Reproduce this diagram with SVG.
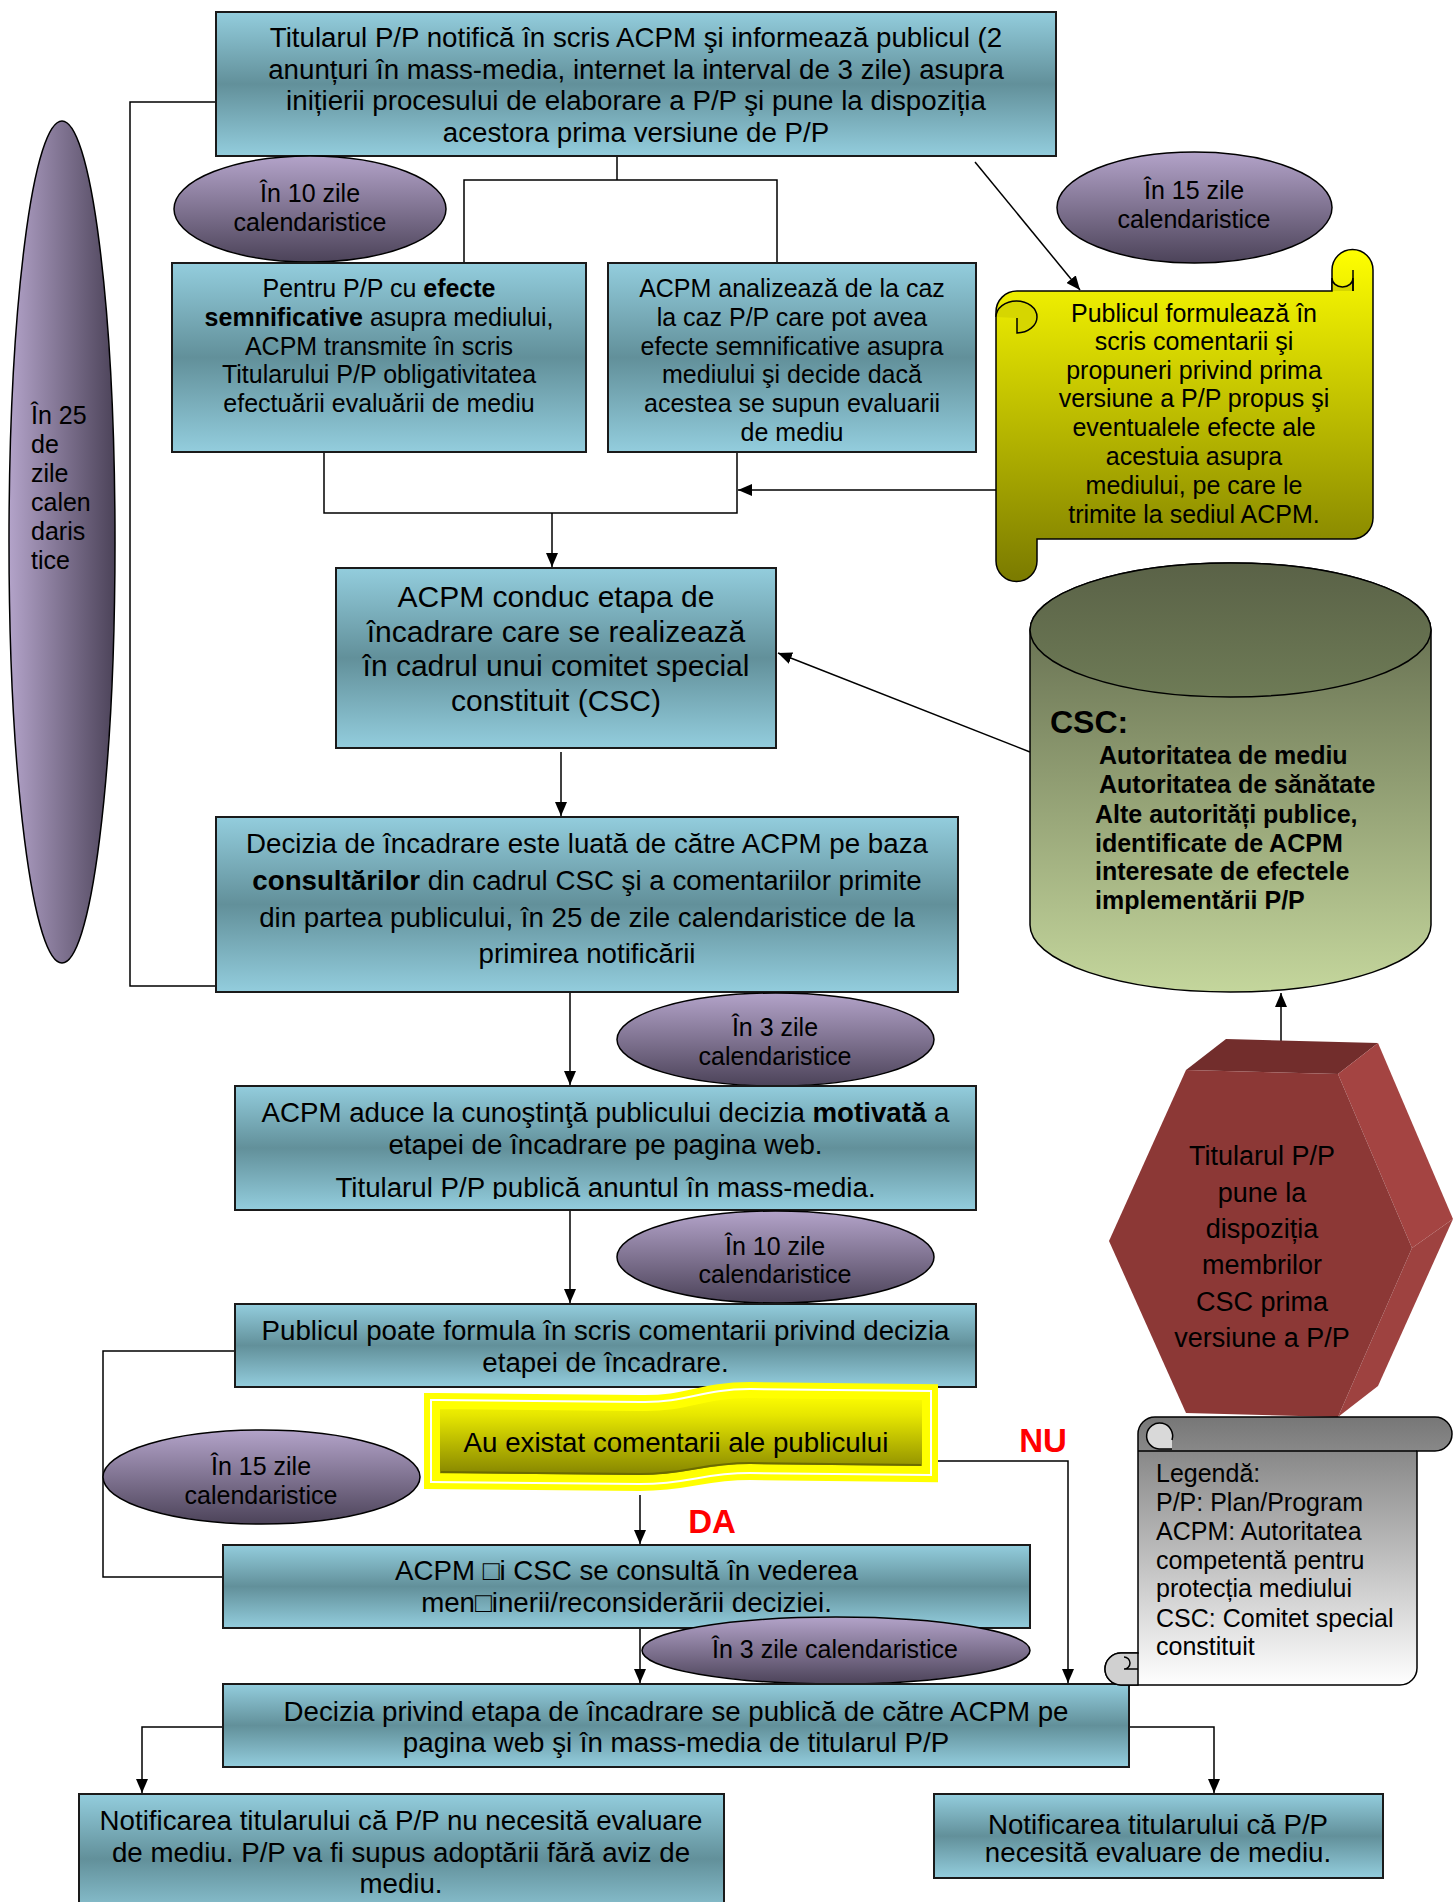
<svg xmlns="http://www.w3.org/2000/svg" width="1453" height="1902" viewBox="0 0 1453 1902">
<defs>
<linearGradient id="blue" x1="0" y1="0" x2="0" y2="1"><stop offset="0" stop-color="#93cddd"/><stop offset="0.5" stop-color="#62909a"/><stop offset="1" stop-color="#93cddd"/></linearGradient>
<linearGradient id="purp" x1="0" y1="0" x2="0" y2="1"><stop offset="0" stop-color="#b3a3c9"/><stop offset="1" stop-color="#4c4359"/></linearGradient>
<linearGradient id="purpH" x1="0" y1="0" x2="1" y2="0"><stop offset="0" stop-color="#b3a3c9"/><stop offset="1" stop-color="#4c4359"/></linearGradient>
<linearGradient id="yel" x1="0" y1="0" x2="0" y2="1"><stop offset="0" stop-color="#ffff00"/><stop offset="1" stop-color="#7a7a00"/></linearGradient>
<linearGradient id="yel2" x1="0" y1="0" x2="0" y2="1"><stop offset="0" stop-color="#ffff00"/><stop offset="0.25" stop-color="#e6e600"/><stop offset="1" stop-color="#7f7f00"/></linearGradient>
<linearGradient id="cyl" x1="0" y1="0" x2="0" y2="1"><stop offset="0" stop-color="#5a6247"/><stop offset="1" stop-color="#c4d69c"/></linearGradient>
<linearGradient id="cyltop" x1="0" y1="0" x2="0" y2="1"><stop offset="0" stop-color="#5a6247"/><stop offset="1" stop-color="#6e7b56"/></linearGradient>
<linearGradient id="gray" x1="0" y1="0" x2="0" y2="1"><stop offset="0" stop-color="#777777"/><stop offset="1" stop-color="#ffffff"/></linearGradient>
<marker id="ah" markerUnits="userSpaceOnUse" markerWidth="14" markerHeight="12" refX="14" refY="6" orient="auto"><path d="M0,0 L14,6 L0,12 z" fill="#000"/></marker>
<clipPath id="clipAduce"><rect x="235" y="1086" width="741" height="113"/></clipPath>
</defs>
<style>
text{font-family:"Liberation Sans",Arial,sans-serif;fill:#000}
.box{fill:url(#blue);stroke:#1a1a1a;stroke-width:2}
.ell{fill:url(#purp);stroke:#000;stroke-width:1.5}
.t25{font-size:25px}
.t27{font-size:27.7px}
.t27h{font-size:27px}
.c{text-anchor:middle}
.b{font-weight:bold}
.ln{fill:none;stroke:#000;stroke-width:1.5}
.ar{fill:none;stroke:#000;stroke-width:1.5;marker-end:url(#ah)}
</style>
<rect width="1453" height="1902" fill="#fff"/>

<g id="connectors">
<path class="ln" d="M216,102 H130 V986 H216"/>
<path class="ln" d="M617,156 V180 M464,263 V180 H777 V263"/>
<path class="ln" d="M324,452 V513 H737 V452"/>
<path class="ar" d="M552,513 V567"/>
<path class="ar" d="M996,490 H738"/>
<path class="ar" d="M975,162 L1080,290"/>
<path class="ar" d="M1030,752 L778,653"/>
<path class="ar" d="M561,752 V816"/>
<path class="ar" d="M570,992 V1085"/>
<path class="ar" d="M570,1210 V1303"/>
<path class="ln" d="M235,1351 H103 V1577 H222"/>
<path class="ar" d="M640,1495 V1544"/>
<path class="ar" d="M640,1617 V1683"/>
<path class="ar" d="M929,1461 H1068 V1683"/>
<path class="ar" d="M223,1727 H142 V1793"/>
<path class="ar" d="M1129,1727 H1214 V1793"/>
<path class="ar" d="M1281,1071 V993"/>
</g>

<g id="n-ellipse25">
<ellipse cx="62" cy="542" rx="53" ry="421" fill="url(#purpH)" stroke="#000" stroke-width="1.5"/>
<text class="t25" x="31"><tspan x="31" y="424">În 25</tspan><tspan x="31" y="453">de</tspan><tspan x="31" y="482">zile</tspan><tspan x="31" y="511">calen</tspan><tspan x="31" y="540">daris</tspan><tspan x="31" y="569">tice</tspan></text>
</g>

<g id="n-top">
<rect class="box" x="216" y="12" width="840" height="144"/>
<text class="t27 c" x="636" y="47">Titularul P/P notifică în scris ACPM şi informează publicul (2</text>
<text class="t27 c" x="636" y="78.5">anunțuri în mass-media, internet la interval de 3 zile) asupra</text>
<text class="t27 c" x="636" y="110">inițierii procesului de elaborare a P/P şi pune la dispoziția</text>
<text class="t27 c" x="636" y="141.5">acestora prima versiune de P/P</text>
</g>

<g id="n-e10a">
<ellipse class="ell" cx="310" cy="209" rx="136" ry="53"/>
<text class="t25 c" x="310" y="202">În 10 zile</text>
<text class="t25 c" x="310" y="231">calendaristice</text>
</g>

<g id="n-e15a">
<ellipse class="ell" cx="1194.5" cy="207.5" rx="137.5" ry="55.5"/>
<text class="t25 c" x="1194" y="199">În 15 zile</text>
<text class="t25 c" x="1194" y="228">calendaristice</text>
</g>

<g id="n-pentru">
<rect class="box" x="172" y="263" width="414" height="189"/>
<text class="t25 c" x="379" y="297">Pentru P/P cu <tspan class="b">efecte</tspan></text>
<text class="t25 c" x="379" y="326"><tspan class="b">semnificative</tspan> asupra mediului,</text>
<text class="t25 c" x="379" y="355">ACPM transmite în scris</text>
<text class="t25 c" x="379" y="383">Titularului P/P obligativitatea</text>
<text class="t25 c" x="379" y="412">efectuării evaluării de mediu</text>
</g>

<g id="n-analizeaza">
<rect class="box" x="608" y="263" width="368" height="189"/>
<text class="t25 c" x="792" y="297">ACPM analizează de la caz</text>
<text class="t25 c" x="792" y="326">la caz P/P care pot avea</text>
<text class="t25 c" x="792" y="355">efecte semnificative asupra</text>
<text class="t25 c" x="792" y="383">mediului şi decide dacă</text>
<text class="t25 c" x="792" y="412">acestea se supun evaluarii</text>
<text class="t25 c" x="792" y="441">de mediu</text>
</g>

<g id="n-scroll">
<path d="M1017,291 H1332 V270 A20.5,20.5 0 0 1 1373,270 V518 A21,21 0 0 1 1352,539 H1037 V561 A20.5,20.5 0 0 1 996,561 V312 A21,21 0 0 1 1017,291 Z" fill="url(#yel)" stroke="#000" stroke-width="1.5"/>
<path d="M996,317 A20.5,16 0 0 1 1037,317 A20.5,16 0 0 1 1017,333 V318" fill="#d6d600" stroke="#000" stroke-width="1.5"/>
<path d="M1332,291 V278 A10.5,9 0 0 0 1353,278 V291" fill="#d6d600" stroke="#000" stroke-width="1.5"/>
<path d="M1353,270 V291" fill="none" stroke="#000" stroke-width="1.5"/>
<text class="t25 c" x="1194" y="322">Publicul formulează în</text>
<text class="t25 c" x="1194" y="350">scris comentarii şi</text>
<text class="t25 c" x="1194" y="379">propuneri privind prima</text>
<text class="t25 c" x="1194" y="407">versiune a P/P propus şi</text>
<text class="t25 c" x="1194" y="436">eventualele efecte ale</text>
<text class="t25 c" x="1194" y="465">acestuia asupra</text>
<text class="t25 c" x="1194" y="494">mediului, pe care le</text>
<text class="t25 c" x="1194" y="523">trimite la sediul ACPM.</text>
</g>

<g id="n-conduc">
<rect class="box" x="336" y="568" width="440" height="180"/>
<text class="c" style="font-size:30px" x="556" y="607">ACPM conduc etapa de</text>
<text class="c" style="font-size:30px" x="556" y="642">încadrare care se realizează</text>
<text class="c" style="font-size:30px" x="556" y="676">în cadrul unui comitet special</text>
<text class="c" style="font-size:30px" x="556" y="711">constituit (CSC)</text>
</g>

<g id="n-csc">
<path d="M1030,630 A200.5,67 0 0 1 1431,630 V925 A200.5,67 0 0 1 1030,925 Z" fill="url(#cyl)" stroke="#000" stroke-width="1.5"/>
<ellipse cx="1230.5" cy="630" rx="200.5" ry="67" fill="url(#cyltop)" stroke="#000" stroke-width="1.5"/>
<text class="b" style="font-size:32px" x="1050" y="733">CSC:</text>
<text class="b t25" x="1099" y="764">Autoritatea de mediu</text>
<text class="b t25" x="1099" y="793">Autoritatea de sănătate</text>
<text class="b t25" x="1095" y="823">Alte autorități publice,</text>
<text class="b t25" x="1095" y="852">identificate de ACPM</text>
<text class="b t25" x="1095" y="880">interesate de efectele</text>
<text class="b t25" x="1095" y="909">implementării P/P</text>
</g>

<g id="n-decizia">
<rect class="box" x="216" y="817" width="742" height="175"/>
<text class="t27 c" x="587" y="853">Decizia de încadrare este luată de către ACPM pe baza</text>
<text class="t27 c" x="587" y="890"><tspan class="b">consultărilor</tspan> din cadrul CSC şi a comentariilor primite</text>
<text class="t27 c" x="587" y="927">din partea publicului, în 25 de zile calendaristice de la</text>
<text class="t27 c" x="587" y="963">primirea notificării</text>
</g>

<g id="n-e3a">
<ellipse class="ell" cx="775.5" cy="1039.5" rx="158.5" ry="46.5"/>
<text class="t25 c" x="775" y="1036">În 3 zile</text>
<text class="t25 c" x="775" y="1065">calendaristice</text>
</g>

<g id="n-aduce">
<rect class="box" x="235" y="1086" width="741" height="124"/>
<text class="t27 c" x="605.5" y="1122">ACPM aduce la cunoştinţă publicului decizia <tspan class="b">motivată</tspan> a</text>
<text class="t27 c" x="605.5" y="1154">etapei de încadrare pe pagina web.</text>
<text class="t27 c" x="605.5" y="1197" clip-path="url(#clipAduce)">Titularul P/P publică anuntul în mass-media.</text>
</g>

<g id="n-e10b">
<ellipse class="ell" cx="775.5" cy="1257" rx="158.5" ry="46"/>
<text class="t25 c" x="775" y="1255">În 10 zile</text>
<text class="t25 c" x="775" y="1283">calendaristice</text>
</g>

<g id="n-poate">
<rect class="box" x="235" y="1304" width="741" height="83"/>
<text class="t27 c" x="605.5" y="1340">Publicul poate formula în scris comentarii privind decizia</text>
<text class="t27 c" x="605.5" y="1372">etapei de încadrare.</text>
</g>

<g id="n-e15b">
<ellipse class="ell" cx="261.5" cy="1477" rx="158.5" ry="47"/>
<text class="t25 c" x="261" y="1475">În 15 zile</text>
<text class="t25 c" x="261" y="1504">calendaristice</text>
</g>

<g id="n-wave">
<path d="M436,1405 L640,1407 C690,1408 700,1394 750,1394 L926,1396 L926,1470 L750,1468 C700,1468 690,1479 640,1479 L436,1477 Z" fill="none" stroke="#ffff00" stroke-width="24" stroke-linejoin="miter"/>
<path d="M436,1405 L640,1407 C690,1408 700,1394 750,1394 L926,1396 L926,1470 L750,1468 C700,1468 690,1479 640,1479 L436,1477 Z" fill="none" stroke="#ffffff" stroke-width="12" stroke-linejoin="miter"/>
<path d="M436,1405 L640,1407 C690,1408 700,1394 750,1394 L926,1396 L926,1470 L750,1468 C700,1468 690,1479 640,1479 L436,1477 Z" fill="url(#yel2)" stroke="#ffff00" stroke-width="8" stroke-linejoin="miter"/>
<path d="M441,1472 L640,1474 C690,1474 700,1463 750,1463 L921,1465" fill="none" stroke="#6b6b00" stroke-width="2"/>
<text class="t27 c" x="676" y="1452">Au existat comentarii ale publicului</text>
</g>

<text class="b c" style="font-size:33px;fill:#ff0000" x="1043" y="1452">NU</text>
<text class="b c" style="font-size:33px;fill:#ff0000" x="712" y="1533">DA</text>

<g id="n-consulta">
<rect class="box" x="223" y="1545" width="807" height="83"/>
<text class="t27 c" x="626.5" y="1580">ACPM □i CSC se consultă în vederea</text>
<text class="t27 c" x="626.5" y="1612">men□inerii/reconsiderării deciziei.</text>
</g>

<g id="n-e3b">
<ellipse class="ell" cx="836" cy="1650.5" rx="194" ry="33.5"/>
<text class="t25 c" x="835" y="1658">În 3 zile calendaristice</text>
</g>

<g id="n-privind">
<rect class="box" x="223" y="1684" width="906" height="83"/>
<text class="t27 c" x="676" y="1721">Decizia privind etapa de încadrare se publică de către ACPM pe</text>
<text class="t27 c" x="676" y="1752">pagina web şi în mass-media de titularul P/P</text>
</g>

<g id="n-nuNecesita">
<rect class="box" x="79" y="1794" width="645" height="130"/>
<text class="t27 c" x="401" y="1830">Notificarea titularului că P/P nu necesită evaluare</text>
<text class="t27 c" x="401" y="1862">de mediu. P/P va fi supus adoptării fără aviz de</text>
<text class="t27 c" x="401" y="1893">mediu.</text>
</g>

<g id="n-necesita">
<rect class="box" x="934" y="1794" width="449" height="84"/>
<text class="t27 c" x="1158" y="1834">Notificarea titularului că P/P</text>
<text class="t27 c" x="1158" y="1862">necesită evaluare de mediu.</text>
</g>

<g id="n-hexagon">
<polygon points="1186,1070 1226,1039 1378,1043 1338,1074" fill="#722d2c"/>
<polygon points="1338,1074 1378,1043 1453,1219 1412,1248" fill="#a44442"/>
<polygon points="1412,1248 1453,1219 1378,1386 1338,1417" fill="#9e4240"/>
<polygon points="1109,1241 1186,1070 1338,1074 1412,1248 1338,1417 1186,1413" fill="#8c3836"/>
<text class="t27h c" x="1262" y="1165">Titularul P/P</text>
<text class="t27h c" x="1262" y="1202">pune la</text>
<text class="t27h c" x="1262" y="1238">dispoziția</text>
<text class="t27h c" x="1262" y="1274">membrilor</text>
<text class="t27h c" x="1262" y="1311">CSC prima</text>
<text class="t27h c" x="1262" y="1347">versiune a P/P</text>
</g>

<g id="n-legend">
<path d="M1155,1417 H1435 A17,17 0 0 1 1435,1451 H1417 V1668 A17,17 0 0 1 1400,1685 H1121 A16,16 0 0 1 1121,1653 H1138 V1434 A17,17 0 0 1 1155,1417 Z" fill="url(#gray)" stroke="#000" stroke-width="1.5"/>
<path d="M1138,1451 H1417" fill="none" stroke="#000" stroke-width="1.5"/>
<path d="M1172,1440 A13,13 0 1 0 1159,1449 H1172" fill="#d9d9d9" stroke="#000" stroke-width="1.5"/>
<path d="M1121,1685 A16,16 0 0 1 1121,1653 H1138 V1685 Z" fill="#d0d0d0" stroke="#000" stroke-width="1.5"/>
<path d="M1124,1669 A6,6 0 0 0 1124,1657 M1124,1669 H1138" fill="none" stroke="#000" stroke-width="1.5"/>
<text class="t25" x="1156" y="1482">Legendă:</text>
<text class="t25" x="1156" y="1511">P/P: Plan/Program</text>
<text class="t25" x="1156" y="1540">ACPM: Autoritatea</text>
<text class="t25" x="1156" y="1569">competentă pentru</text>
<text class="t25" x="1156" y="1597">protecția mediului</text>
<text class="t25" x="1156" y="1627">CSC: Comitet special</text>
<text class="t25" x="1156" y="1655">constituit</text>
</g>
</svg>
